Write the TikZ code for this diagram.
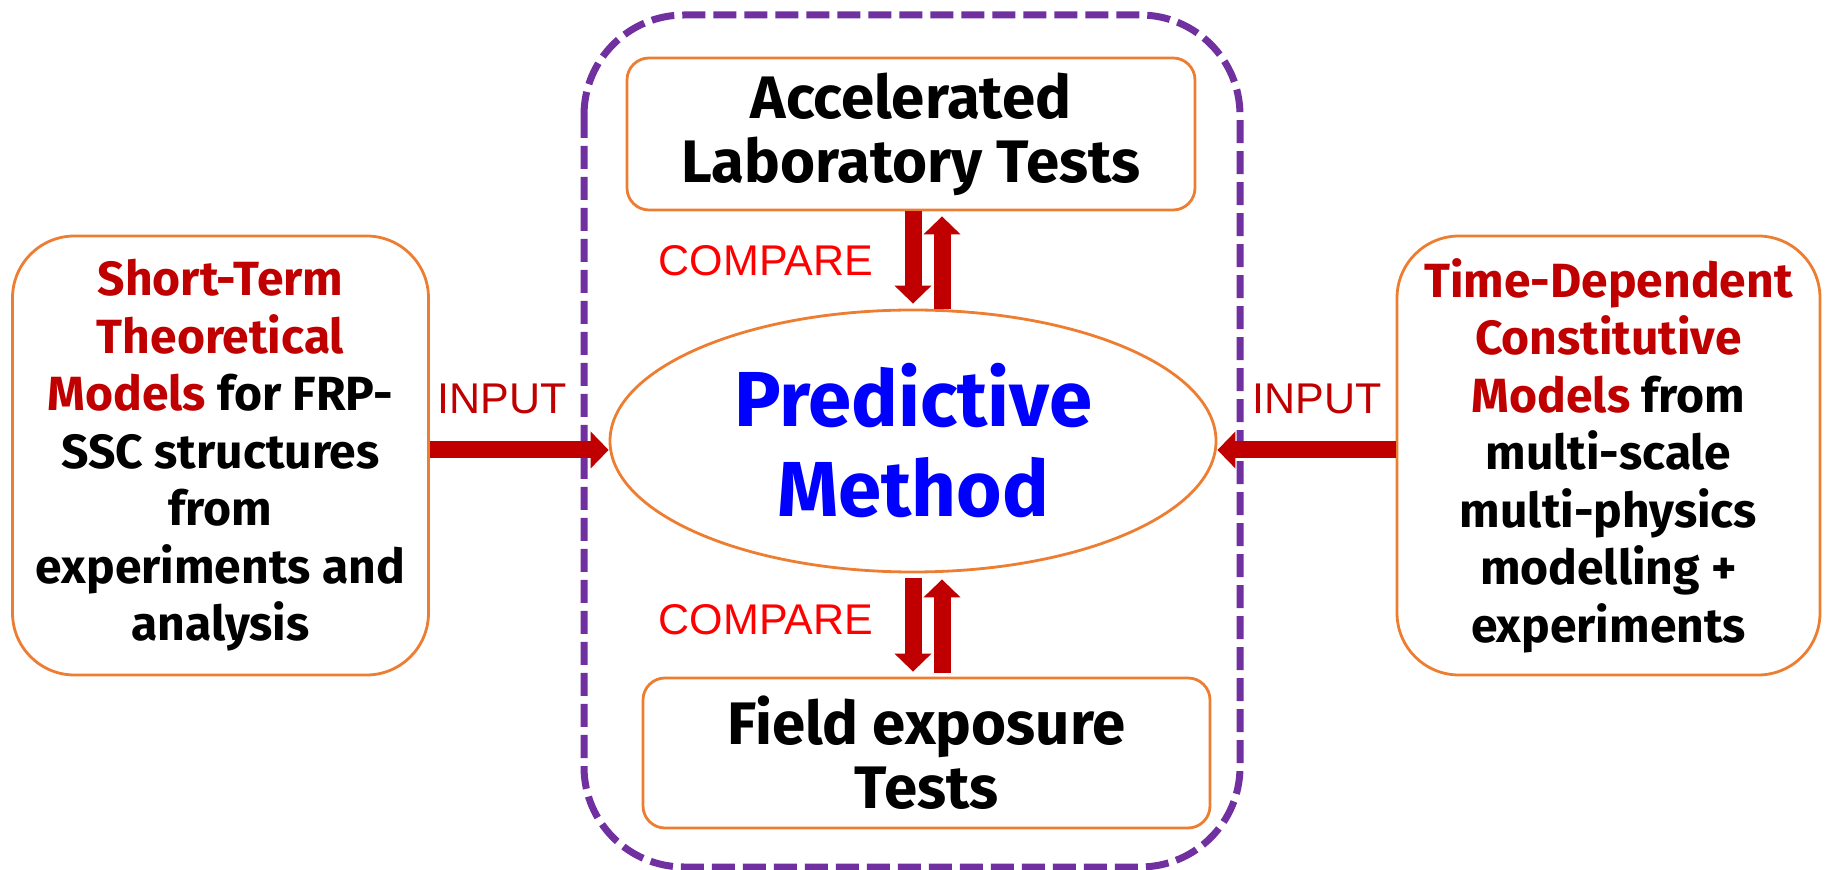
\documentclass[tikz,border=0pt]{standalone}
\usepackage{fontspec}
\setmainfont{Fira Sans}
\setsansfont{Liberation Sans}
\usetikzlibrary{arrows.meta,shapes.geometric}
\definecolor{boxorange}{HTML}{ED7D31}
\definecolor{darkred}{HTML}{C00000}
\definecolor{framepurple}{HTML}{7030A0}
\definecolor{plainred}{HTML}{FF0000}
\definecolor{methodblue}{HTML}{0000FF}
\begin{document}
\begin{tikzpicture}[x=0.5pt, y=-0.5pt,
    testbox/.style={draw=boxorange, line width=1.4pt, rounded corners=11pt, inner sep=0pt, align=center, font=\bfseries\fontsize{30pt}{32pt}\selectfont},
    modelbox/.style={draw=boxorange, line width=1.4pt, rounded corners=31pt, inner sep=0pt, align=center, minimum height=219.5pt, font=\bfseries\fontsize{24pt}{28.75pt}\selectfont},
    fatarrow/.style={draw=darkred, line width=8.5pt, -{Triangle[length=9pt,width=18pt]}},
    tag/.style={font=\sffamily\fontsize{21.5pt}{24pt}\selectfont}]
	\useasboundingbox (0,0) rectangle (1825,870);
	
	% Marco punteado
	\draw[framepurple, line width=3.5pt, dash pattern=on 11.5pt off 4pt, rounded corners=50pt] (584,15) rectangle (1240,867);
	
	% Ensayos
	\node[testbox, minimum width=284pt, minimum height=76pt] (acc) at (911,134) {Accelerated\\Laboratory Tests};
	\node[testbox, minimum width=283.5pt, minimum height=75pt] (field) at (926.5,753) {Field exposure\\Tests};
	
	% Metodo predictivo
	\node[draw=boxorange, line width=1.4pt, ellipse, minimum width=303pt, minimum height=131pt, inner sep=0pt, align=center, text=methodblue, font=\bfseries\fontsize{39pt}{45pt}\selectfont] (predict) at (913,441) {Predictive\\Method};
	
	% Modelos
	\node[modelbox, minimum width=208pt] (short) at (220.5,455.5) {{\color{darkred}Short-Term}\\{\color{darkred}Theoretical}\\{\color{darkred}Models} for FRP-\\SSC structures\\from\\experiments and\\analysis};
	\node[modelbox, minimum width=211.5pt] (depend) at (1608.5,455.5) {{\color{darkred}Time-Dependent}\\{\color{darkred}Constitutive}\\{\color{darkred}Models} from\\multi-scale\\multi-physics\\modelling +\\experiments};
	
	% Flechas de entrada
	\draw[fatarrow] (short.east |- 0,450) -- (predict.west |- 0,450);
	\draw[fatarrow] (depend.west |- 0,450) -- (predict.east |- 0,450);
	
	% Flechas de comparacion
	\coordinate (upA) at ([xshift=14.5pt]predict.north);
	\coordinate (upB) at ([xshift=14.5pt]predict.south);
	\draw[fatarrow, shorten >=2.5pt] (acc.south -| predict.north) -- (predict.north);
	\draw[fatarrow, shorten >=2.5pt] (upA) -- (upA |- acc.south);
	\draw[fatarrow, shorten <=2.5pt, shorten >=2.5pt] (predict.south) -- (predict.south |- field.north);
	\draw[fatarrow, shorten <=2pt, shorten >=3pt] (upB |- field.north) -- (upB);
	
	% Etiquetas
	\node[tag, text=plainred] (cmpTop) at (766,261) {COMPARE};
	\node[tag, text=plainred] (cmpBot) at (766,620) {COMPARE};
	\node[tag, text=darkred] (inLeft) at (502,399) {INPUT};
	\node[tag, text=darkred] (inRight) at (1317,399) {INPUT};
\end{tikzpicture}
\end{document}
